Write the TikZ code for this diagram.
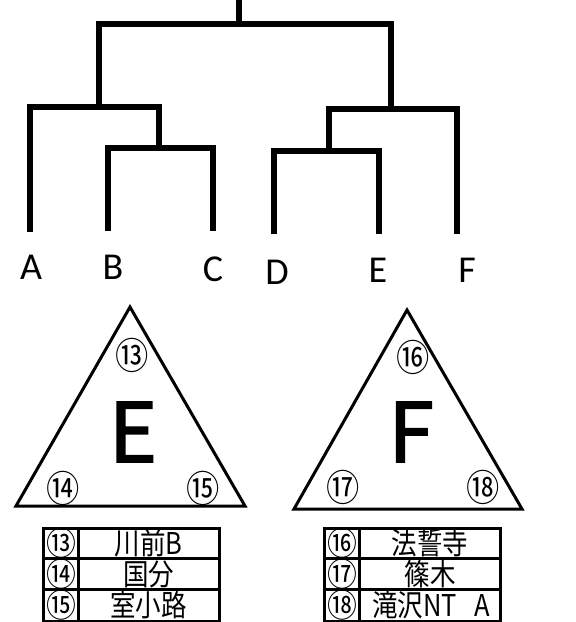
\documentclass[tikz,border=0pt]{standalone}
\usepackage{fontspec}
\setmainfont{Carlito}
\newfontfamily\cjk{Noto Sans CJK JP}
\newfontfamily\cjkbig[FakeBold=2]{Noto Sans CJK JP}
\begin{document}
\begin{tikzpicture}[x=1pt,y=-1pt,
  dend/.style={line width=6.2pt,line join=miter,line cap=butt},
  tri/.style={line width=3pt,line join=miter},
  leaflab/.style={font=\fontsize{38}{40}\selectfont,inner sep=0pt},
  big/.style={font=\cjkbig\fontsize{82}{82}\selectfont,inner sep=0pt},
  circ/.style={font=\cjk\fontsize{37}{37}\selectfont,inner sep=0pt,xscale=0.9},
  tab/.style={line width=3pt},
  cell/.style={font=\cjk\fontsize{30}{30}\selectfont,inner sep=0pt,xscale=0.85},
  cnum/.style={font=\cjk\fontsize{32.5}{32.5}\selectfont,inner sep=0pt,xscale=0.92}]
\useasboundingbox (0,0) rectangle (576,622);
% dendrogram
\coordinate (root) at (238.7,0);
\coordinate (top) at (238.7,24);
\draw[dend] (root) -- (top);
\draw[dend] (98.7,106) -- (98.7,24) -- (391.3,24) -- (391.3,109);
\draw[dend] (30,232) -- (30,106.7) -- (159,106.7) -- (159,148);
\draw[dend] (108,231) -- (108,148) -- (212.7,148) -- (212.7,231);
\draw[dend] (328.7,151) -- (328.7,109.3) -- (456.7,109.3) -- (456.7,234);
\draw[dend] (274.3,234) -- (274.3,151) -- (378.7,151) -- (378.7,234);
% leaf labels
\node[leaflab] (A) at (31,267) {A};
\node[leaflab] (B) at (113,267) {B};
\node[leaflab] (C) at (213,269) {C};
\node[leaflab] (D) at (277,272) {D};
\node[leaflab] (E) at (378,270) {E};
\node[leaflab] (F) at (467,270) {F};
% triangles
\draw[tri] (130,307) -- (245,506) -- (16,506) -- cycle;
\draw[tri] (407,310) -- (522,509) -- (294,509) -- cycle;
\node[big] (bigE) at (133,432) {E};
\node[big] (bigF) at (411,432) {F};
\node[circ] (c13) at (132,355) {⑬};
\node[circ] (c14) at (63,488) {⑭};
\node[circ] (c15) at (203,488) {⑮};
\node[circ] (c16) at (413,357) {⑯};
\node[circ] (c17) at (343,487) {⑰};
\node[circ] (c18) at (483,487) {⑱};
% tables
\draw[tab] (43,528) rectangle (219,621);
\draw[tab] (43,558) -- (219,558) (43,589) -- (219,589) (78.5,528) -- (78.5,621);
\draw[tab] (324,528) rectangle (500,621);
\draw[tab] (324,558) -- (500,558) (324,589) -- (500,589) (359.5,528) -- (359.5,621);
\node[cnum] (t13) at (61,543) {⑬};
\node[cnum] (t14) at (61,574) {⑭};
\node[cnum] (t15) at (61,605) {⑮};
\node[cell] (n13) at (148.5,543) {川前B};
\node[cell] (n14) at (148.5,574) {国分};
\node[cell] (n15) at (148.5,605) {室小路};
\node[cnum] (t16) at (342,543) {⑯};
\node[cnum] (t17) at (342,574) {⑰};
\node[cnum] (t18) at (342,605) {⑱};
\node[cell] (n16) at (430,543) {法誓寺};
\node[cell] (n17) at (430,574) {篠木};
\node[cell] (n18) at (431,605) {滝沢NT\hspace{20pt}A};
\end{tikzpicture}
\end{document}
